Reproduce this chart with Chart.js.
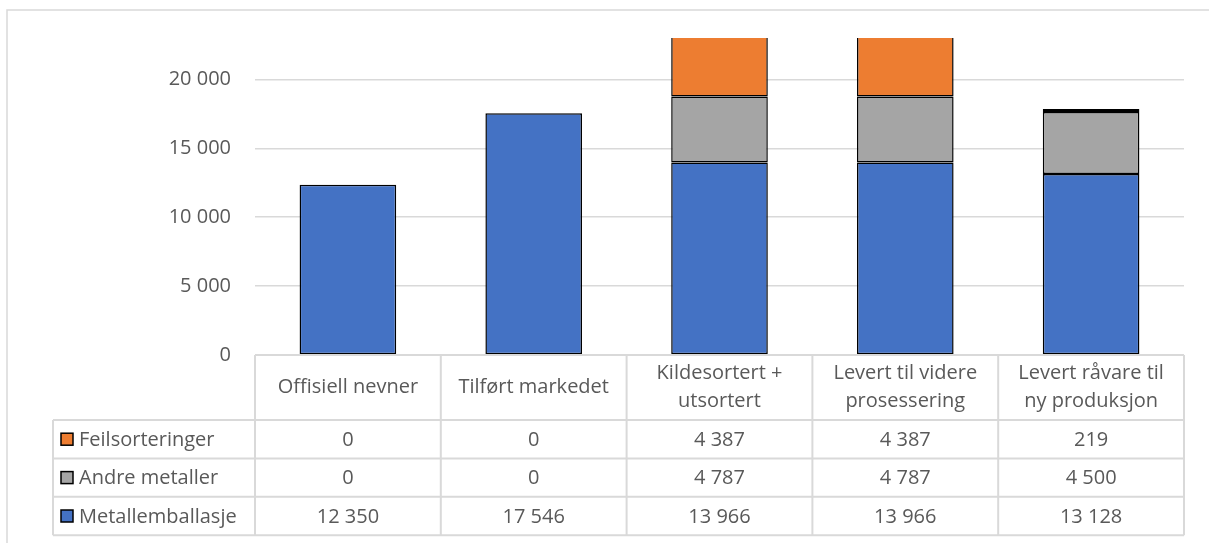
<!DOCTYPE html>
<html>
<head>
<meta charset="utf-8">
<script src="https://cdn.jsdelivr.net/npm/chart.js@4.4.1/dist/chart.umd.min.js"></script>
<style>
  body { margin: 0; background: #fff; }
  canvas { display: block; }
</style>
</head>
<body>
<canvas id="chart" width="1209" height="543"></canvas>
<script>
// categories (header lines in the data table)
const categories = [
  ['Offisiell nevner'],
  ['Tilført markedet'],
  ['Kildesortert +', 'utsortert'],
  ['Levert til videre', 'prosessering'],
  ['Levert råvare til', 'ny produksjon']
];
const metallemballasje = [12350, 17546, 13966, 13966, 13128];
const andreMetaller = [0, 0, 4787, 4787, 4500];
const feilsorteringer = [0, 0, 4387, 4387, 219];

const yMax = 23000;
const yTicks = [0, 5000, 10000, 15000, 20000];

const colors = { metall: '#4472C4', andre: '#A5A5A5', feil: '#ED7D31' };
const textColor = '#595959';
const lineColor = '#D9D9D9';
const FONT = '"Open Sans", sans-serif';

function fmt(n) {
  return String(n).replace(/\B(?=(\d{3})+(?!\d))/g, ' ');
}

// rows of the data table, top to bottom
const tableRows = [
  { name: 'Feilsorteringer', data: feilsorteringer, color: colors.feil },
  { name: 'Andre metaller', data: andreMetaller, color: colors.andre },
  { name: 'Metallemballasje', data: metallemballasje, color: colors.metall }
];

const tablePlugin = {
  id: 'dataTable',
  afterDraw(chart) {
    const ctx = chart.ctx;
    const area = chart.chartArea;
    const xs = chart.scales.x;
    const n = categories.length;
    const colW = (area.right - area.left) / n;
    const headTop = area.bottom;
    const headBot = 420;
    const rowH = 38.4;
    const tableLeft = 53;
    const tableBot = headBot + rowH * tableRows.length;

    ctx.save();
    // outer chart frame (cropped on right/bottom)
    ctx.strokeStyle = lineColor;
    ctx.lineWidth = 1.5;
    ctx.beginPath();
    ctx.moveTo(7, 543);
    ctx.lineTo(7, 10);
    ctx.lineTo(1209, 10);
    ctx.stroke();

    // table grid
    ctx.lineWidth = 2;
    ctx.beginPath();
    ctx.moveTo(area.left, headTop);
    ctx.lineTo(area.right, headTop);
    for (let r = 0; r <= tableRows.length; r++) {
      const y = headBot + r * rowH;
      ctx.moveTo(tableLeft, y);
      ctx.lineTo(area.right, y);
    }
    for (let i = 0; i <= n; i++) {
      const x = area.left + i * colW;
      ctx.moveTo(x, headTop);
      ctx.lineTo(x, tableBot);
    }
    ctx.moveTo(tableLeft, headBot);
    ctx.lineTo(tableLeft, tableBot);
    ctx.stroke();

    // header text
    ctx.fillStyle = textColor;
    ctx.font = '20px ' + FONT;
    ctx.textAlign = 'center';
    ctx.textBaseline = 'middle';
    categories.forEach((lines, i) => {
      const cx = xs.getPixelForValue(i);
      const cy = (headTop + headBot) / 2;
      const lh = 28;
      lines.forEach((t, k) => {
        ctx.fillText(t, cx, cy + (k - (lines.length - 1) / 2) * lh);
      });
    });

    // rows
    tableRows.forEach((row, r) => {
      const cy = headBot + r * rowH + rowH / 2;
      ctx.fillStyle = row.color;
      ctx.fillRect(61, cy - 6, 12, 12);
      ctx.strokeStyle = '#000';
      ctx.lineWidth = 1.5;
      ctx.strokeRect(61, cy - 6, 12, 12);
      ctx.fillStyle = textColor;
      ctx.textAlign = 'left';
      ctx.fillText(row.name, 79, cy + 1);
      ctx.textAlign = 'center';
      row.data.forEach((v, i) => {
        ctx.fillText(fmt(v), xs.getPixelForValue(i), cy + 1);
      });
    });
    ctx.restore();
  }
};

function barSet(label, data, color) {
  return {
    label,
    data: data.map(v => v || null),
    backgroundColor: color,
    borderColor: '#000',
    borderWidth: 1.5,
    borderSkipped: false,
    barPercentage: 0.52,
    categoryPercentage: 1,
    clip: 0
  };
}

new Chart(document.getElementById('chart'), {
  type: 'bar',
  data: {
    labels: categories.map(c => c.join(' ')),
    datasets: [
      barSet('Metallemballasje', metallemballasje, colors.metall),
      barSet('Andre metaller', andreMetaller, colors.andre),
      barSet('Feilsorteringer', feilsorteringer, colors.feil)
    ]
  },
  options: {
    responsive: false,
    animation: false,
    layout: { padding: { left: 0, top: 38, right: 25, bottom: 188 } },
    plugins: {
      legend: { display: false },
      tooltip: { enabled: false }
    },
    scales: {
      x: {
        stacked: true,
        display: false
      },
      y: {
        stacked: true,
        min: 0,
        max: yMax,
        border: { display: false },
        grid: { color: lineColor, lineWidth: 1.5, drawTicks: false },
        afterBuildTicks(scale) {
          scale.ticks = yTicks.map(v => ({ value: v }));
        },
        ticks: {
          padding: 24,
          color: textColor,
          font: { family: FONT, size: 20 },
          callback: v => fmt(v)
        },
        afterFit(scale) { scale.width = 255; }
      }
    }
  },
  plugins: [tablePlugin]
});
</script>
</body>
</html>
